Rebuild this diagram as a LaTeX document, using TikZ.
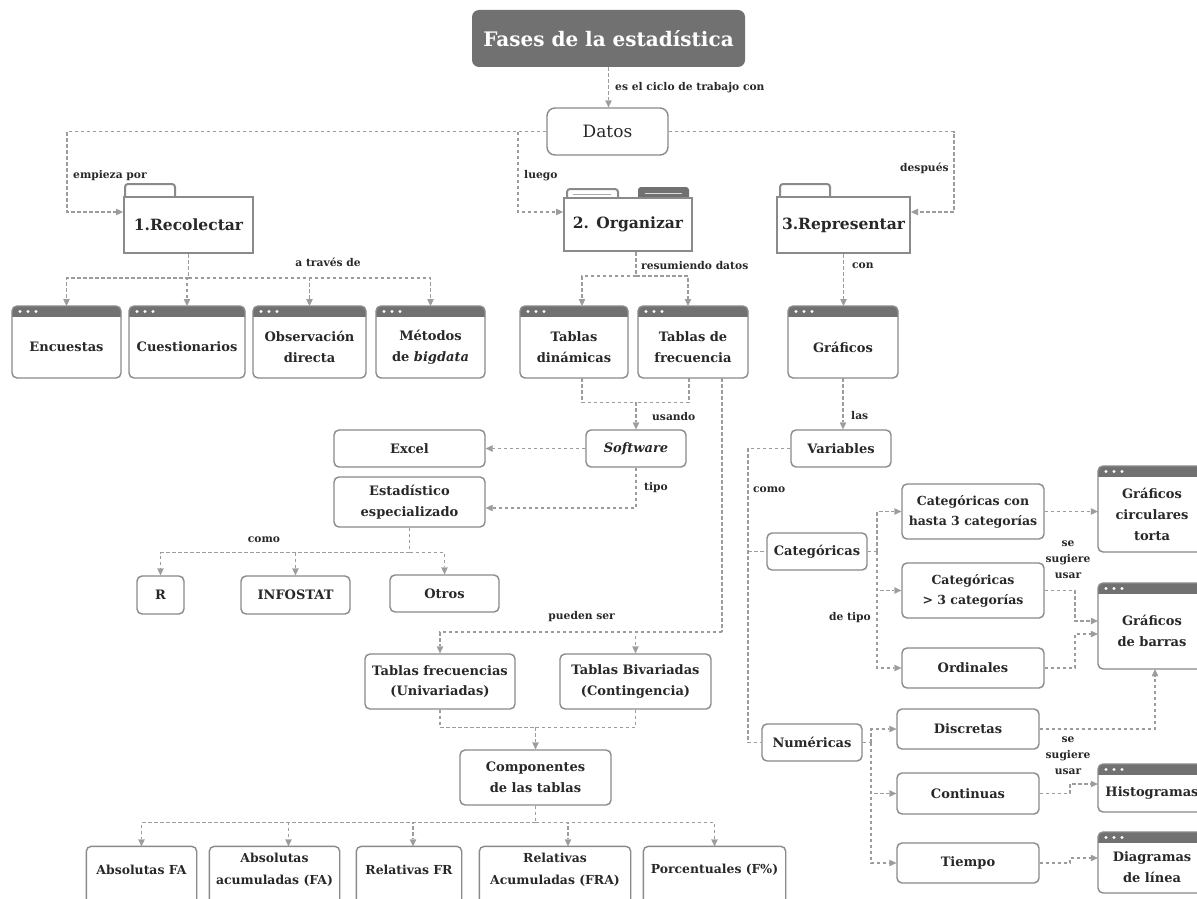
\documentclass[tikz,border=0pt]{standalone}
\usepackage{fontspec}
\setmainfont{DejaVu Serif}
\usetikzlibrary{arrows.meta,calc}

\definecolor{lineg}{HTML}{8A8A8A}
\definecolor{darkg}{HTML}{717171}
\definecolor{dashg}{HTML}{9C9C9C}
\definecolor{textg}{HTML}{282828}

\newcommand\fnt[2]{\fontsize{#1}{#2}\selectfont}

\tikzset{
  base/.style={text=textg, align=center, inner sep=1pt},
  bx/.style={base, draw=lineg, line width=1.4pt, rounded corners=5pt, fill=white, font=\bfseries\fnt{13}{20.5}},
  wbody/.style={base, font=\bfseries\fnt{13}{21}},
  fold/.style={base, draw=lineg, line width=2pt, fill=white, font=\bfseries\fnt{15.5}{18}},
  conn/.style={draw=dashg, line width=1.4pt, dash pattern=on 3.5pt off 2.5pt},
  arr/.style={conn, -{Triangle[length=7pt,width=6.5pt,line width=0.4pt]}},
  lbl/.style={text=textg, font=\bfseries\fnt{10.7}{16}, inner sep=0pt, align=center},
  openbox/.style={draw=lineg, line width=1.4pt, rounded corners=5pt},
}

% plain rounded box given by its corners
\newcommand\pbox[7][]{%
  \pgfmathsetmacro\bcx{(#3+#5)/2}%
  \pgfmathsetmacro\bcy{(#4+#6)/2}%
  \pgfmathsetmacro\bw{#5-#3}%
  \pgfmathsetmacro\bh{#6-#4}%
  \node[bx, minimum width=\bw pt, minimum height=\bh pt, #1] (#2) at (\bcx,\bcy) {#7};}

% window with a dark title bar and three dots
\newcommand\winbox[6]{%
  \pgfmathsetmacro\bcx{(#2+#4)/2}%
  \pgfmathsetmacro\bcy{(#3+10+#5)/2}%
  \pgfmathsetmacro\bw{#4-#2}%
  \pgfmathsetmacro\bh{#5-#3-10}%
  \fill[white, rounded corners=5pt] (#2,#3) rectangle (#4,#5);
  \fill[darkg, rounded corners=5pt] (#2,#3) rectangle (#4,#3+18);
  \fill[white] (#2,#3+11) rectangle (#4,#3+19);
  \foreach \k in {0,1,2} \fill[white] (#2+8+8*\k,#3+5.5) circle (1.7pt);
  \draw[draw=lineg, line width=1.4pt, rounded corners=5pt] (#2,#3) rectangle (#4,#5);
  \node[wbody, minimum width=\bw pt, minimum height=\bh pt] (#1) at (\bcx,\bcy) {#6};
  \coordinate (#1-t) at (\bcx,#3);}

% folder with a single tab
\newcommand\folder[8]{%
  \draw[draw=lineg, line width=2pt, rounded corners=3pt, fill=white] (#6,#3+2) -- (#6,#3-13) -- (#7,#3-13) -- (#7,#3+2);
  \pgfmathsetmacro\bcx{(#2+#4)/2}%
  \pgfmathsetmacro\bcy{(#3+#5)/2}%
  \pgfmathsetmacro\bw{#4-#2}%
  \pgfmathsetmacro\bh{#5-#3}%
  \node[fold, minimum width=\bw pt, minimum height=\bh pt] (#1) at (\bcx,\bcy) {#8};}

% box running off the bottom edge
\newcommand\openframe[1]{%
  \draw[openbox] ([yshift=-25pt]#1.south west) -- (#1.north west) -- (#1.north east) -- ([yshift=-25pt]#1.south east);}

\begin{document}
\begin{tikzpicture}[x=1pt,y=-1pt]
\path[use as bounding box] (0,0) rectangle (1197,899);
\clip (0,0) rectangle (1197,899);
\fill[white] (0,0) rectangle (1197,899);

% ---------- title and Datos ----------
\node[fill=darkg, rounded corners=7pt, minimum width=273pt, minimum height=57pt,
      text=white, font=\bfseries\fnt{20}{24}] (title) at (608.5,38.5) {Fases de la estadística};
\pbox[rounded corners=8pt, font=\fnt{17}{20}]{datos}{547}{108}{668}{155}{Datos}
\draw[arr] (title.south) -- (title.south |- datos.north);
\node[lbl, anchor=west] (l1) at (615,88) {es el ciclo de trabajo con};

% ---------- the three phases ----------
\folder{rec}{124}{197}{253}{253}{125}{175}{1.Recolectar}
\folder{rep}{777}{197}{910}{253}{780}{830}{3.Representar}
% Organizar: two tabs, the right one filled
\draw[draw=lineg, line width=2pt, rounded corners=3pt, fill=white] (567,200) -- (567,189) -- (618,189) -- (618,200);
\draw[draw=lineg!70, line width=1.2pt] (573,194.5) -- (611,194.5);
\fill[darkg, rounded corners=3pt] (638,187) rectangle (689,202);
\draw[white!75!darkg, line width=1.2pt] (645,193.5) -- (682,193.5);
\node[fold, minimum width=128pt, minimum height=53pt] (org) at (628,224.5) {2. Organizar};

\coordinate (c1) at (67,212);
\coordinate (c2) at (518,131.5);
\coordinate (c3) at (518,212);
\coordinate (c4) at (954,212);
\draw[arr] (datos.west) -| (c1) -- (c1 -| rec.west);
\draw[arr] (c2) -- (c3) -- (c3 -| org.west);
\draw[arr] (datos.east) -| (c4) -- (c4 -| rep.east);
\node[lbl, anchor=west] (l2) at (73,176) {empieza por};
\node[lbl, anchor=west] (l3) at (524,176) {luego};
\node[lbl, anchor=west] (l4) at (900,168) {después};

% ---------- Recolectar ----------
\winbox{enc}{12}{306}{121}{378}{Encuestas}
\winbox{cue}{129}{306}{245}{378}{Cuestionarios}
\winbox{obs}{253}{306}{366}{378}{Observación\\directa}
\winbox{met}{376}{306}{485}{378}{Métodos\\de \textit{bigdata}}
\path (rec.south) ++(0,24) coordinate (b1);
\draw[conn] (rec.south) -- (b1);
\draw[arr] (b1) -| (enc-t);
\draw[arr] (b1) -| (cue-t);
\draw[arr] (b1) -| (obs-t);
\draw[arr] (b1) -| (met-t);
\node[lbl] (l5) at (328,262) {a través de};

% ---------- Organizar ----------
\winbox{tdin}{520}{306}{628}{378}{Tablas\\dinámicas}
\winbox{tfre}{638}{306}{748}{378}{Tablas de\\frecuencia}
\coordinate (b2) at (636,276);
\draw[conn] (b2 |- org.south) -- (b2);
\draw[arr] (b2) -| ([xshift=8pt]tdin-t);
\draw[arr] (b2) -| ([xshift=-5pt]tfre-t);
\node[lbl, anchor=west] (l6) at (641,266) {resumiendo datos};

\pbox[font=\bfseries\itshape\fnt{13}{20}]{soft}{586}{430}{686}{467}{Software}
\pbox{exc}{334}{430}{485}{467}{Excel}
\pbox{est}{334}{477}{485}{527}{Estadístico\\especializado}
\path (soft.north) ++(0,-27) coordinate (b3);
\draw[conn] ([xshift=8pt]tdin.south) |- (b3);
\draw[conn] ([xshift=-4pt]tfre.south) |- (b3);
\draw[arr] (b3) -- (soft.north);
\node[lbl, anchor=west] (l7) at (652,417) {usando};
\draw[arr] (soft.west) -- (exc.east);
\coordinate (b4) at (636,508);
\draw[arr] (soft.south) -- (b4) -- (b4 -| est.east);
\node[lbl, anchor=west] (l8) at (644,488) {tipo};

\pbox{rr}{137}{576}{184}{614}{R}
\pbox{inf}{241}{576}{350}{614}{INFOSTAT}
\pbox{otr}{390}{575}{499}{612}{Otros}
\path (est.south) ++(0,25) coordinate (b5);
\draw[conn] (est.south) -- (b5);
\draw[arr] (b5) -| (rr.north);
\draw[arr] (b5) -| (inf.north);
\draw[arr] (b5) -| (otr.north);
\node[lbl] (l9) at (264,540) {como};

% ---------- frequency tables ----------
\pbox{tfu}{365}{654}{515}{709}{Tablas frecuencias\\(Univariadas)}
\pbox{tbi}{560}{654}{711}{709}{Tablas Bivariadas\\(Contingencia)}
\coordinate (pb) at (722,632);
\draw[conn] ([xshift=29pt]tfre.south) -- (pb);
\draw[arr] (pb) -| (tbi.north);
\draw[arr] (pb) -| (tfu.north);
\node[lbl, anchor=east] (l10) at (615,617) {pueden ser};

\pbox{comp}{460}{750}{611}{805}{Componentes\\de las tablas}
\path (comp.north) ++(0,-22) coordinate (lb);
\draw[conn] (tfu.south) |- (lb);
\draw[conn] (tbi.south) |- (lb);
\draw[arr] (lb) -- (comp.north);

\pbox[draw=none, font=\bfseries\fnt{12.4}{22}]{fa}{87}{847}{196}{893}{Absolutas FA}
\pbox[draw=none, font=\bfseries\fnt{12.4}{22}]{faa}{210}{847}{339}{893}{Absolutas\\acumuladas (FA)}
\pbox[draw=none, font=\bfseries\fnt{12.4}{22}]{fr}{357}{847}{461}{893}{Relativas FR}
\pbox[draw=none, font=\bfseries\fnt{12.4}{22}]{fra}{480}{847}{630}{893}{Relativas\\Acumuladas (FRA)}
\pbox[draw=none, font=\bfseries\fnt{12.4}{22}]{fp}{644}{847}{785}{893}{Porcentuales (F\%)}
\openframe{fa}\openframe{faa}\openframe{fr}\openframe{fra}\openframe{fp}
\path (comp.south) ++(0,17) coordinate (bb);
\draw[conn] (comp.south) -- (bb);
\draw[arr] (bb) -| (fa.north);
\draw[arr] (bb) -| ([xshift=14pt]faa.north);
\draw[arr] (bb) -| ([xshift=4pt]fr.north);
\draw[arr] (bb) -| ([xshift=13pt]fra.north);
\draw[arr] (bb) -| (fp.north);

% ---------- Representar ----------
\winbox{graf}{788}{306}{898}{378}{Gráficos}
\draw[arr] (rep.south) -- (rep.south |- graf-t);
\node[lbl, anchor=west] (l11) at (852,266) {con};

\pbox{vars}{791}{430}{891}{467}{Variables}
\draw[arr] (graf.south) -- (graf.south |- vars.north);
\node[lbl, anchor=west] (l12) at (851,416) {las};

\pbox{cat}{767}{533}{867}{570}{Categóricas}
\pbox{num}{762}{724}{862}{761}{Numéricas}
\coordinate (vb) at (748,742.5);
\draw[conn] (vars.west) -| (vb) -- (num.west);
\draw[conn] (cat.west -| vb) -- (cat.west);
\node[lbl, anchor=west] (l13) at (753,490) {como};

\pbox[font=\bfseries\fnt{12.5}{20}]{cthree}{902}{484}{1044}{539}{Categóricas con\\hasta 3 categorías}
\pbox[font=\bfseries\fnt{12.5}{20}]{cmore}{902}{563}{1044}{618}{Categóricas\\> 3 categorías}
\pbox{ordi}{902}{648}{1044}{688}{Ordinales}
\coordinate (cb) at (877,551.5);
\draw[conn] (cat.east) -- (cb);
\draw[arr] (cb) |- (cthree.west);
\draw[arr] (cb) |- (cmore.west);
\draw[arr] (cb) |- (ordi.west);
\node[lbl, anchor=east] (l14) at (871,618) {de tipo};

\winbox{gcir}{1098}{466}{1206}{552}{Gráficos\\circulares\\torta}
\winbox{gbar}{1098}{583}{1206}{669}{Gráficos\\de barras}
\draw[arr] (cthree.east) -- (cthree.east -| gcir.west);
\coordinate (g1) at (1075,621);
\coordinate (g2) at (1075,634);
\draw[arr] (cmore.east) -| (g1) -- (g1 -| gbar.west);
\draw[arr] (ordi.east) -| (g2) -- (g2 -| gbar.west);
\node[lbl] (l15) at (1068,560) {se\\sugiere\\usar};

\pbox{dis}{897}{709}{1039}{749}{Discretas}
\pbox{cont}{897}{773}{1039}{814}{Continuas}
\pbox{tie}{897}{843}{1039}{883}{Tiempo}
\coordinate (nb) at (871,742.5);
\draw[conn] (num.east) -- (nb);
\draw[arr] (nb) |- (dis.west);
\draw[arr] (nb) |- (cont.west);
\draw[arr] (nb) |- (tie.west);

\winbox{hist}{1098}{764}{1206}{812}{Histogramas}
\winbox{diag}{1098}{832}{1206}{893}{Diagramas\\de línea}
\draw[arr] (dis.east) -| ([xshift=3pt]gbar.south);
\node[lbl] (l16) at (1068,756) {se\\sugiere\\usar};
\coordinate (h1) at (1070,784);
\coordinate (h2) at (1070,858);
\draw[arr] (cont.east) -| (h1) -- (h1 -| hist.west);
\draw[arr] (tie.east) -| (h2) -- (h2 -| diag.west);
\end{tikzpicture}
\end{document}
